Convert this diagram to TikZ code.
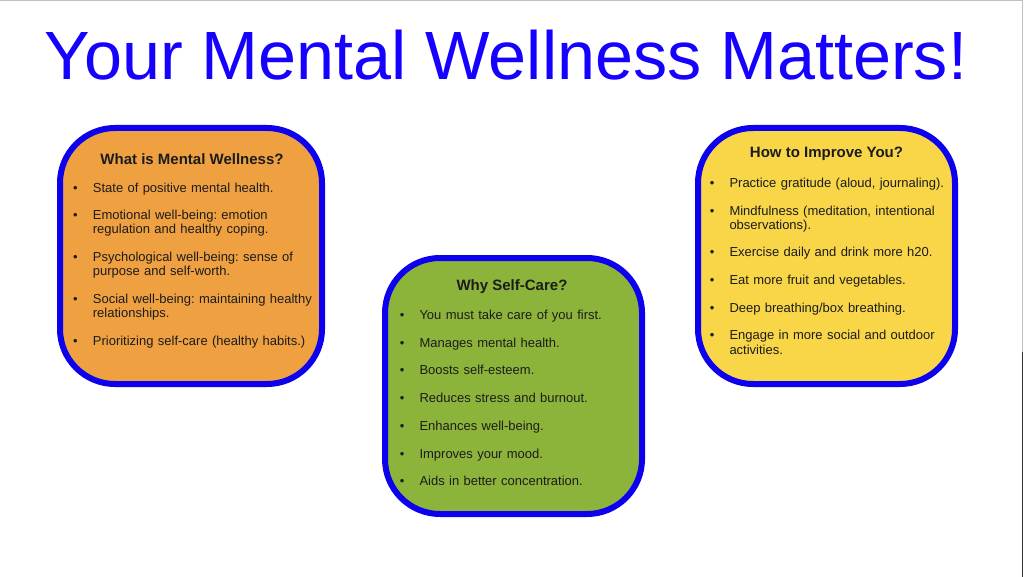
\documentclass[tikz,border=0pt]{standalone}
\usepackage{fontspec}
\setmainfont{Liberation Sans}
\frenchspacing

\definecolor{titleblue}{RGB}{22,0,255}
\definecolor{rimblue}{RGB}{12,0,238}
\definecolor{cardorange}{RGB}{239,160,64}
\definecolor{cardgreen}{RGB}{141,180,58}
\definecolor{cardyellow}{RGB}{248,214,72}
\definecolor{inktext}{RGB}{28,28,28}

\newenvironment{dotlist}{\begin{list}{\textbullet}{%
  \setlength{\leftmargin}{20pt}\setlength{\labelwidth}{5pt}%
  \setlength{\labelsep}{15.2pt}\setlength{\itemsep}{13.7pt}%
  \setlength{\parsep}{0pt}\setlength{\topsep}{0pt}\setlength{\partopsep}{0pt}}}%
  {\end{list}}

\tikzset{
  card/.style={draw=rimblue, line width=6pt, rounded corners=55pt},
  cardhead/.style={inner sep=0pt, anchor=base, text=inktext, font=\fontsize{15}{18}\selectfont\bfseries},
  cardtext/.style={inner sep=0pt, anchor=base west, text width=250pt, align=left, text=inktext,
    font=\fontsize{13}{14}\selectfont},
}

\begin{document}
\begin{tikzpicture}[x=1pt, y=-1pt]
\useasboundingbox (0,0) rectangle (1024,577);
\fill[white] (0,0) rectangle (1024,577);
\draw[black!25, line width=1.5pt] (0,0.75) -- (1022.6,0.75) -- (1022.6,577);
\fill[black!80] (1022,352) rectangle (1023.3,577);

\node[inner sep=0pt, anchor=base, text=titleblue, font=\fontsize{68.3}{80}\selectfont] (title) at (506,79.5) {Your Mental Wellness Matters!};

\draw[card, fill=cardorange] (60,128) rectangle (322,384);
\draw[card, fill=cardgreen] (385,258) rectangle (642,514);
\draw[card, fill=cardyellow] (698,128) rectangle (955,384);

\node[cardhead] (whathead) at (192,165) {What is Mental Wellness?};
\node[cardtext] (whatlist) at (72.7,178.2) {\begin{dotlist}
\item State of positive mental health.
\item Emotional well-being: emotion\newline regulation and healthy coping.
\item Psychological well-being: sense of\newline purpose and self-worth.
\item Social well-being: maintaining healthy\newline relationships.
\item Prioritizing self-care (healthy habits.)
\end{dotlist}};

\node[cardhead] (whyhead) at (512,290.7) {Why Self-Care?};
\node[cardtext] (whylist) at (399.3,305.5) {\begin{dotlist}
\item You must take care of you first.
\item Manages mental health.
\item Boosts self-esteem.
\item Reduces stress and burnout.
\item Enhances well-being.
\item Improves your mood.
\item Aids in better concentration.
\end{dotlist}};

\node[cardhead] (howhead) at (826.5,158) {How to Improve You?};
\node[cardtext] (howlist) at (709.3,173.5) {\begin{dotlist}
\item Practice gratitude (aloud, journaling).
\item Mindfulness (meditation, intentional\newline observations).
\item Exercise daily and drink more h20.
\item Eat more fruit and vegetables.
\item Deep breathing/box breathing.
\item Engage in more social and outdoor\newline activities.
\end{dotlist}};
\end{tikzpicture}
\end{document}
